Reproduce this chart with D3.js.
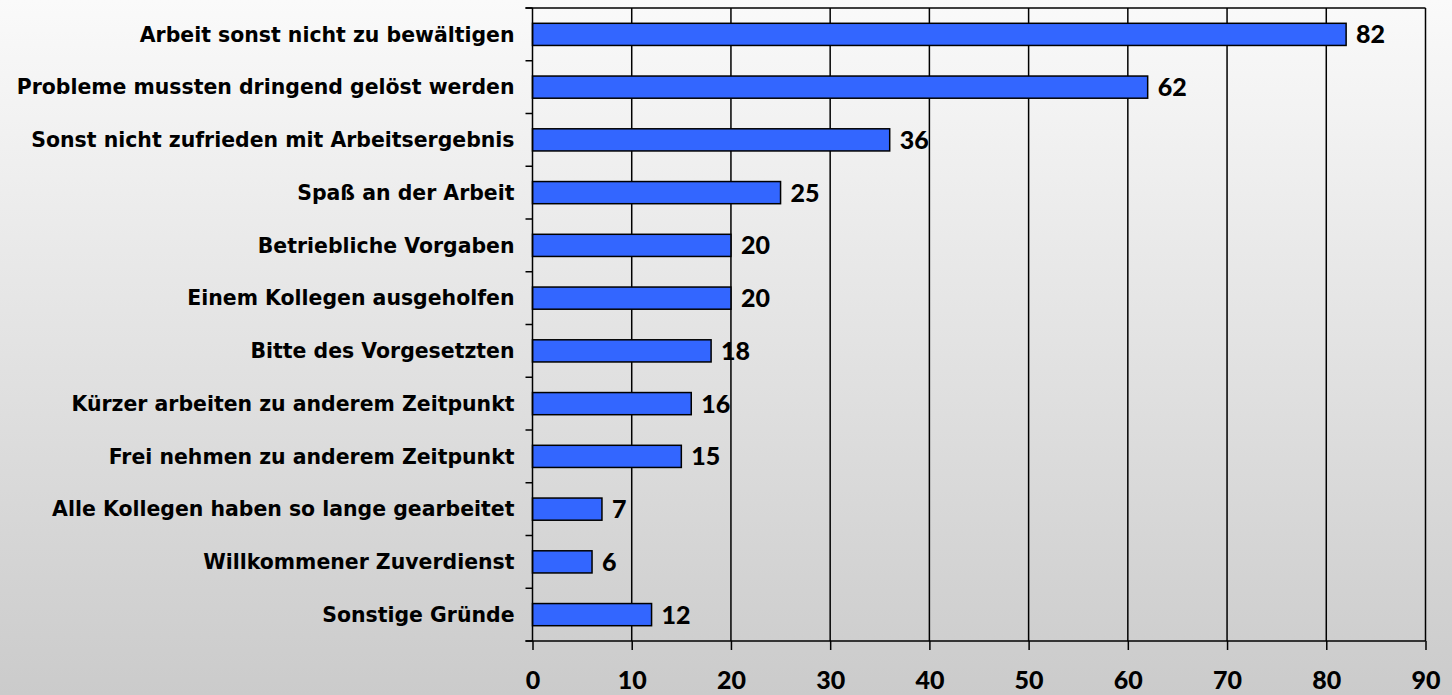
<html>
<head>
<meta charset="utf-8">
<script src="https://cdn.jsdelivr.net/npm/d3@7"></script>
<style>
  html, body { margin: 0; padding: 0; }
  body { width: 1452px; height: 695px; overflow: hidden; }
  text { font-family: Lato, "DejaVu Sans", sans-serif; font-weight: bold; fill: #000; }
  text.cat { font-family: "DejaVu Sans", sans-serif; }
  text.num { font-weight: 900; }
</style>
</head>
<body>
<script type="text/javascript">
// categories top to bottom
var categories = [
  "Arbeit sonst nicht zu bewältigen",
  "Probleme mussten dringend gelöst werden",
  "Sonst nicht zufrieden mit Arbeitsergebnis",
  "Spaß an der Arbeit",
  "Betriebliche Vorgaben",
  "Einem Kollegen ausgeholfen",
  "Bitte des Vorgesetzten",
  "Kürzer arbeiten zu anderem Zeitpunkt",
  "Frei nehmen zu anderem Zeitpunkt",
  "Alle Kollegen haben so lange gearbeitet",
  "Willkommener Zuverdienst",
  "Sonstige Gründe"
];
var values = [82, 62, 36, 25, 20, 20, 18, 16, 15, 7, 6, 12];
var xTicks = [0, 10, 20, 30, 40, 50, 60, 70, 80, 90];

var W = 1452, H = 695;
var plotLeft = 532.5, plotRight = 1425.5, plotTop = 8, plotBottom = 641;

var svg = d3.select("body").append("svg")
  .attr("width", W)
  .attr("height", H);

// background gradient
var grad = svg.append("defs").append("linearGradient")
  .attr("id", "bg").attr("x1", 0).attr("y1", 0).attr("x2", 0).attr("y2", 1);
grad.append("stop").attr("offset", "0%").attr("stop-color", "#fafafa");
grad.append("stop").attr("offset", "100%").attr("stop-color", "#cbcbcb");
svg.append("rect").attr("width", W).attr("height", H).attr("fill", "url(#bg)");

var x = d3.scaleLinear().domain([0, 90]).range([plotLeft, plotRight]);
var y = d3.scaleBand().domain(categories).range([plotTop, plotBottom]).padding(0);
var bw = y.bandwidth();

// vertical gridlines
svg.append("g").selectAll("line")
  .data(xTicks.slice(1))
  .enter().append("line")
    .attr("x1", function (d) { return x(d); })
    .attr("x2", function (d) { return x(d); })
    .attr("y1", plotTop).attr("y2", plotBottom)
    .attr("stroke", "#000").attr("stroke-width", 1.5);

// top border
svg.append("line")
  .attr("x1", plotLeft - 7).attr("x2", plotRight)
  .attr("y1", plotTop).attr("y2", plotTop)
  .attr("stroke", "#000").attr("stroke-width", 1.5);

// bars
svg.append("g").selectAll("rect")
  .data(values)
  .enter().append("rect")
    .attr("x", x(0))
    .attr("y", function (d, i) { return y(categories[i]) + bw * 0.29; })
    .attr("width", function (d) { return x(d) - x(0); })
    .attr("height", bw * 0.42)
    .attr("fill", "#3366ff")
    .attr("stroke", "#000")
    .attr("stroke-width", 1.5);

// value labels
svg.append("g").selectAll("text")
  .data(values)
  .enter().append("text")
    .attr("class", "num")
    .attr("x", function (d) { return x(d) + 10; })
    .attr("y", function (d, i) { return y(categories[i]) + bw / 2; })
    .attr("dy", "0.36em")
    .style("font-size", "25px")
    .text(function (d) { return d; });

// left axis line + ticks at band edges
svg.append("line")
  .attr("x1", plotLeft).attr("x2", plotLeft)
  .attr("y1", plotTop).attr("y2", plotBottom)
  .attr("stroke", "#000").attr("stroke-width", 1.5);
var edges = categories.map(function (c) { return y(c); }).concat([plotBottom]);
svg.append("g").selectAll("line")
  .data(edges)
  .enter().append("line")
    .attr("x1", plotLeft - 7).attr("x2", plotLeft)
    .attr("y1", function (d) { return d; })
    .attr("y2", function (d) { return d; })
    .attr("stroke", "#000").attr("stroke-width", 1.5);

// category labels, sized so the longest one spans ~498px
var labels = svg.append("g").selectAll("text")
  .data(categories)
  .enter().append("text")
    .attr("class", "cat")
    .attr("x", plotLeft - 18)
    .attr("y", function (d) { return y(d) + bw / 2; })
    .attr("dy", "0.36em")
    .attr("text-anchor", "end")
    .style("font-size", "20px")
    .text(function (d) { return d; });
var maxLen = d3.max(labels.nodes(), function (n) { return n.getComputedTextLength(); });
labels.style("font-size", (20 * 498 / maxLen) + "px");

// bottom axis
var xAxis = d3.axisBottom(x).tickValues(xTicks).tickSize(9).tickPadding(21);
var gx = svg.append("g")
  .attr("transform", "translate(0," + plotBottom + ")")
  .call(xAxis);
gx.select(".domain").attr("stroke", "#000").attr("stroke-width", 1.5)
  .attr("d", "M" + (plotLeft - 7) + ",0H" + plotRight);
gx.selectAll(".tick line").attr("stroke", "#000").attr("stroke-width", 1.5);
gx.selectAll(".tick text")
  .attr("class", "num")
  .style("font-size", "25px")
  .style("font-family", "Lato, 'DejaVu Sans', sans-serif")
  .attr("fill", "#000");
</script>
</body>
</html>
